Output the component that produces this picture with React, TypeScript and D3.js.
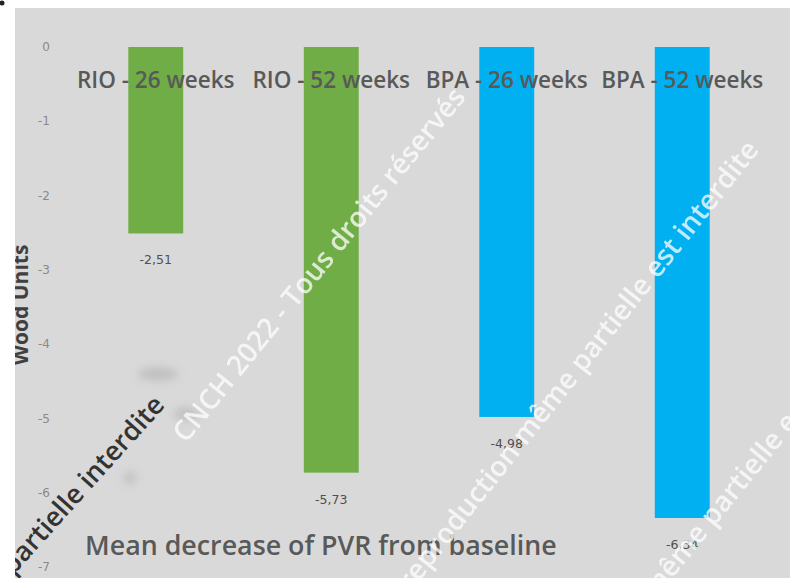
import React from "react";
import * as d3 from "d3";

// Mean change in PVR (Wood units) by treatment and follow-up
const categories = ["RIO - 26 weeks", "RIO - 52 weeks", "BPA - 26 weeks", "BPA - 52 weeks"];
const groups = ["RIO", "RIO", "BPA", "BPA"];
const values = [-2.51, -5.73, -4.98, -6.34];
const yTicks = [0, -1, -2, -3, -4, -5, -6, -7];
const groupColors: Record<string, string> = { RIO: "#70ad47", BPA: "#00b0f0" };

const W = 790;
const H = 578;

export default function App() {
  const x = d3.scaleBand<string>().domain(categories).range([68, 770]).padding(0);
  const barW = x.bandwidth() * 0.313;
  const y = d3.scaleLinear().domain([0, -7]).range([47, 567]);
  const fmt = (v: number) => d3.format(".2f")(v).replace(".", ",").replace("\u2212", "-");
  const labelFont = "'Open Sans', 'Noto Sans', sans-serif";

  return (
    <svg
      width={W}
      height={H}
      style={{ position: "absolute", left: 0, top: 0 }}
      xmlns="http://www.w3.org/2000/svg"
    >
      <defs>
        <clipPath id="panel">
          <rect x={15} y={8} width={W - 15} height={H - 8} />
        </clipPath>
        <filter id="smudge" x="-50%" y="-50%" width="200%" height="200%">
          <feGaussianBlur stdDeviation={5} />
        </filter>
      </defs>
      <rect x={0} y={0} width={W} height={H} fill="#ffffff" />
      <circle cx={2} cy={3} r={2.5} fill="#222" />
      <rect x={15} y={8} width={W - 15} height={H - 8} fill="#d9d9d9" />

      <g clipPath="url(#panel)">
        {/* axis title */}
        <text
          transform={`translate(28, 305) rotate(-90)`}
          textAnchor="middle"
          fontFamily={labelFont}
          fontWeight={700}
          fontSize={21}
          fill="#404040"
        >
          Wood Units
        </text>

        {/* y tick labels */}
        {yTicks.map((t) => (
          <text
            key={t}
            x={50}
            y={y(t)}
            dy="0.35em"
            textAnchor="end"
            fontFamily="'DejaVu Sans', sans-serif"
            fontSize={12}
            fill="#8a8a8a"
          >
            {t}
          </text>
        ))}

        {/* faint smudges */}
        <g filter="url(#smudge)" fill="#b5b5b5" opacity={0.8}>
          <ellipse cx={158} cy={374} rx={20} ry={6} />
          <ellipse cx={186} cy={414} rx={12} ry={6} />
          <ellipse cx={130} cy={478} rx={6} ry={6} />
        </g>

        {/* bars */}
        {categories.map((c, i) => {
          const cx = (x(c) as number) + x.bandwidth() / 2;
          return (
            <rect
              key={c}
              x={cx - barW / 2}
              y={y(0)}
              width={barW}
              height={y(values[i]) - y(0)}
              fill={groupColors[groups[i]]}
            />
          );
        })}

        {/* value labels */}
        {categories.map((c, i) => {
          const cx = (x(c) as number) + x.bandwidth() / 2;
          return (
            <text
              key={c}
              x={cx}
              y={y(values[i]) + 31}
              textAnchor="middle"
              fontFamily="'DejaVu Sans', sans-serif"
              fontSize={12.5}
              fill="#505050"
            >
              {fmt(values[i])}
            </text>
          );
        })}

        {/* category labels */}
        {categories.map((c) => {
          const cx = (x(c) as number) + x.bandwidth() / 2;
          return (
            <text
              key={c}
              x={cx}
              y={88}
              textAnchor="middle"
              fontFamily={labelFont}
              fontWeight={600}
              fontSize={22.5}
              fill="#595959"
            >
              {c}
            </text>
          );
        })}

        {/* chart title */}
        <text
          x={85}
          y={555}
          fontFamily={labelFont}
          fontWeight={600}
          fontSize={26.8}
          fill="#595959"
        >
          Mean decrease of PVR from baseline
        </text>

        {/* overlay notices */}
        <g fontFamily={labelFont} fontWeight={600} fontSize={28}>
          <text transform="translate(186, 444) rotate(-51)" fill="#ffffff" opacity={0.75}>
            CNCH 2022 - Tous droits réservés
          </text>
          <text
            transform="translate(760, 150) rotate(-51.7)"
            textAnchor="end"
            fill="#ffffff"
            opacity={0.75}
          >
            Toute reproduction même partielle est interdite
          </text>
          <text transform="translate(655, 600) rotate(-51)" fill="#ffffff" opacity={0.75}>
            même partielle est interdite
          </text>
          <text
            transform="translate(166, 406) rotate(-48)"
            textAnchor="end"
            fill="#333333"
            fontSize={27}
          >
            partielle interdite
          </text>
        </g>
      </g>
    </svg>
  );
}
